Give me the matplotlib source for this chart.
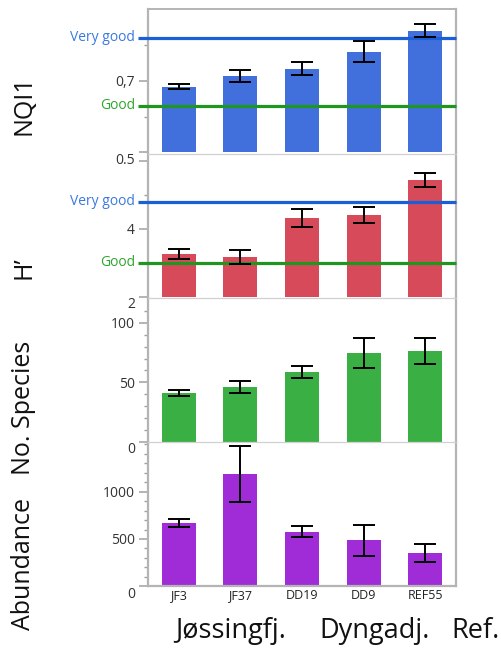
import matplotlib
matplotlib.use("Agg")
import matplotlib.pyplot as plt
from matplotlib.ticker import FixedLocator
import numpy as np

plt.rcParams['font.family'] = ['Open Sans', 'DejaVu Sans']

# Stations and groups
stations = ["JF3", "JF37", "DD19", "DD9", "REF55"]
groups = ["Jøssingfj.", "Dyngadj.", "Ref."]

# NQI1 (mean, error)
nqi1_mean = [0.683, 0.714, 0.734, 0.781, 0.840]
nqi1_err = [0.0075, 0.017, 0.019, 0.029, 0.019]
nqi1_good, nqi1_verygood = 0.63, 0.82

# Shannon-Wiener H'
h_mean = [3.26, 3.18, 4.32, 4.41, 5.44]
h_err = [0.15, 0.21, 0.26, 0.24, 0.20]
h_good, h_verygood = 3.0, 4.8

# Number of species
species_mean = [41.0, 46.0, 58.6, 74.5, 76.2]
species_err = [2.8, 4.7, 5.3, 12.6, 10.9]

# Abundance
abund_mean = [669, 1187, 574, 489, 352]
abund_err = [39, 291, 58, 164, 94]

W, H = 502, 648
fig = plt.figure(figsize=(W / 100, H / 100), dpi=100)

frame_grey = "#b4b4b4"
tick_grey = "#a0a0a0"
text_col = "#333333"

panels = [
    dict(top=9, bot=152.4, mean=nqi1_mean, err=nqi1_err, color="#4170dc",
         ylim=(0.5, 0.9), major=[0.5, 0.7], labels=["", "0,7"], minor=[0.6, 0.8],
         bottom_label="0.5", ylabel="NQI1", ylabel_y=105,
         lines=[(nqi1_verygood, "Very good", "#1a5fd6", "#3a78e0"),
                (nqi1_good, "Good", "#1f961f", "#2ea52e")]),
    dict(top=154, bot=297, mean=h_mean, err=h_err, color="#d64a5a",
         ylim=(2.0, 6.2), major=[2, 4, 6], labels=["", "4", ""], minor=[3, 5],
         bottom_label="2", ylabel="H\u2019", ylabel_y=268,
         lines=[(h_verygood, "Very good", "#1a5fd6", "#3a78e0"),
                (h_good, "Good", "#1f961f", "#2ea52e")]),
    dict(top=298, bot=441.7, mean=species_mean, err=species_err, color="#3ab044",
         ylim=(0, 121), major=[0, 50, 100], labels=["", "50", "100"],
         minor=[10, 20, 30, 40, 60, 70, 80, 90, 110],
         bottom_label="0", ylabel="No. Species", ylabel_y=408, lines=[]),
    dict(top=442, bot=586.3, mean=abund_mean, err=abund_err, color="#a02cd8",
         ylim=(0, 1525), major=[0, 500, 1000], labels=["", "500", "1000"],
         minor=[100, 200, 300, 400, 600, 700, 800, 900, 1100, 1200, 1300, 1400, 1500],
         bottom_label="0", ylabel="Abundance", ylabel_y=564, lines=[]),
]

left_px, right_px = 148, 456
x = np.arange(len(stations))

axes = []
for i, p in enumerate(panels):
    ax = fig.add_axes([left_px / W, 1 - p["bot"] / H,
                       (right_px - left_px) / W, (p["bot"] - p["top"]) / H])
    axes.append(ax)
    ax.bar(x, p["mean"], width=0.55, color=p["color"], zorder=2)
    ax.errorbar(x, p["mean"], yerr=p["err"], fmt="none", ecolor="black",
                elinewidth=1.4, capsize=8, capthick=1.4, zorder=4)
    for val, name, lc, tc in p["lines"]:
        ax.plot([-0.67, 4.5], [val, val], color=lc, lw=2.3, zorder=3,
                clip_on=False, solid_capstyle="butt")
        ax.annotate(name, xy=(0, val), xycoords=("axes fraction", "data"),
                    xytext=(-13 / 1.389, 0), textcoords="offset points",
                    ha="right", va="center", fontsize=10, color=tc)
    ax.set_xlim(-0.5, 4.5)
    ax.set_ylim(*p["ylim"])
    ax.yaxis.set_major_locator(FixedLocator(p["major"]))
    ax.set_yticklabels(p["labels"])
    ax.yaxis.set_minor_locator(FixedLocator(p["minor"]))
    ax.tick_params(axis="y", which="major", length=6.5, width=1.1, color=tick_grey,
                   labelsize=10, labelcolor=text_col, pad=3)
    ax.tick_params(axis="y", which="minor", length=3, width=1.0, color=tick_grey)
    # lowest value label sits a little under its tick
    ax.annotate(p["bottom_label"], xy=(0, p["ylim"][0]),
                xycoords=("axes fraction", "data"),
                xytext=(-13 / 1.389, -8 / 1.389), textcoords="offset points",
                ha="right", va="center", fontsize=10, color=text_col)
    for side in ("left", "right"):
        ax.spines[side].set_color(frame_grey)
        ax.spines[side].set_linewidth(1.6)
    ax.spines["top"].set_color("#d0d0d0" if i else frame_grey)
    ax.spines["top"].set_linewidth(0.9 if i else 1.4)
    if i < 3:
        ax.spines["bottom"].set_visible(False)
        ax.set_xticks([])
    else:
        ax.spines["bottom"].set_color(frame_grey)
        ax.spines["bottom"].set_linewidth(1.6)
        ax.set_xticks(x)
        ax.set_xticklabels(stations)
        ax.tick_params(axis="x", length=0, pad=2, labelsize=9, labelcolor="#222222")
    ax.patch.set_alpha(0)
    fig.text(24 / W, 1 - p["ylabel_y"] / H, p["ylabel"], rotation=90,
             ha="center", va="center", fontsize=18, color="#111111")

group_x = [231, 375, 476]
for gx, g in zip(group_x, groups):
    fig.text(gx / W, 1 - 631 / H, g, ha="center", va="center",
             fontsize=19.5, color="#111111")

fig.savefig("out.png", dpi=100)
